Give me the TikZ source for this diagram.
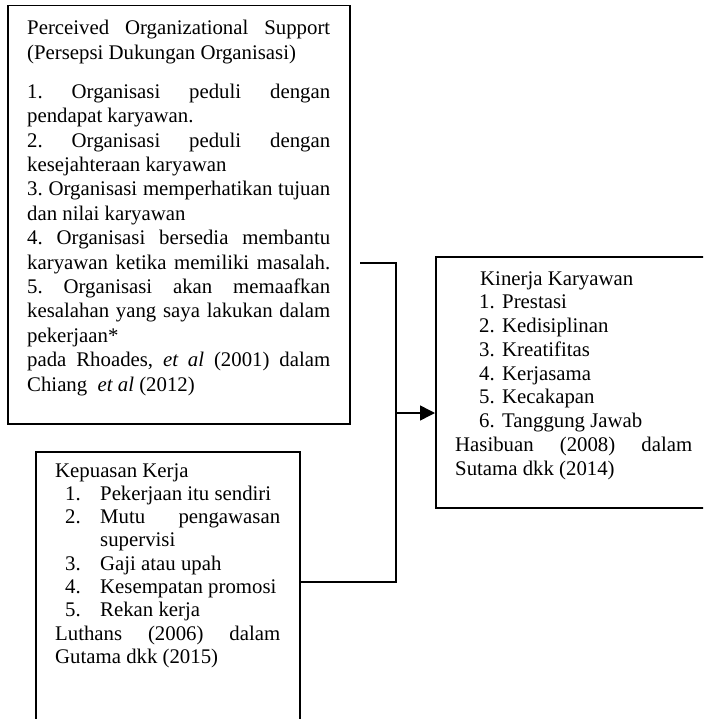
\documentclass[tikz,border=0pt]{standalone}
\usepackage{fontspec}
\setmainfont{Liberation Serif}
\usetikzlibrary{arrows.meta}
\frenchspacing
\newcommand\jl[1]{\makebox[\linewidth][s]{#1}}
\newcommand\itmA[2]{\hspace*{10pt}\makebox[35pt][l]{#1}#2}
\newcommand\itmB[2]{\hspace*{24pt}\makebox[23pt][l]{#1}#2}
\tikzset{
  box/.style={draw, line width=1.5pt, inner sep=0pt, anchor=north west},
  txt/.style={anchor=base west, inner sep=0pt, font=\fontsize{20.8pt}{24pt}\selectfont},
  conn/.style={line width=1.5pt},
}
\begin{document}
\begin{tikzpicture}[x=1pt,y=-1pt]
\useasboundingbox (0,0) rectangle (703,719);
\clip (0,0) rectangle (703,719);
% boxes
\node[box, minimum width=342pt, minimum height=418pt] (pos) at (7,5) {};
\node[box, minimum width=264pt, minimum height=300pt] (kep) at (35,451) {};
\node[box, minimum width=280pt, minimum height=251pt] (kin) at (435,256) {};
% texts
\node[txt] (posT) at (27,35) {\parbox[t]{303pt}{\frenchspacing\setlength\baselineskip{24.4pt}%
\jl{Perceived Organizational Support}\\
(Persepsi Dukungan Organisasi)\\[14.5pt]
\jl{1. Organisasi peduli dengan}\\
pendapat karyawan.\\
\jl{2. Organisasi peduli dengan}\\
kesejahteraan karyawan\\
\jl{3. Organisasi memperhatikan tujuan}\\
dan nilai karyawan\\
\jl{4. Organisasi bersedia membantu}\\
\jl{karyawan ketika memiliki masalah.}\\
\jl{5. Organisasi akan memaafkan}\\
\jl{kesalahan yang saya lakukan dalam}\\
pekerjaan*\\
\jl{pada Rhoades, \textit{et al} (2001) dalam}\\
Chiang\ \ \textit{et al} (2012)}};
\node[txt] (kepT) at (55,477) {\parbox[t]{225pt}{\frenchspacing\setlength\baselineskip{23.3pt}%
Kepuasan Kerja\\
\itmA{1.}{Pekerjaan itu sendiri}\\
\itmA{2.}{\makebox[180pt][s]{Mutu pengawasan}}\\
\itmA{}{supervisi}\\
\itmA{3.}{Gaji atau upah}\\
\itmA{4.}{Kesempatan promosi}\\
\itmA{5.}{Rekan kerja}\\
\jl{Luthans (2006) dalam}\\
Gutama dkk (2015)}};
\node[txt] (kinT) at (455,285) {\parbox[t]{237pt}{\frenchspacing\setlength\baselineskip{23.75pt}%
\hspace*{25pt}Kinerja Karyawan\\
\itmB{1.}{Prestasi}\\
\itmB{2.}{Kedisiplinan}\\
\itmB{3.}{Kreatifitas}\\
\itmB{4.}{Kerjasama}\\
\itmB{5.}{Kecakapan}\\
\itmB{6.}{Tanggung Jawab}\\
\jl{Hasibuan (2008) dalam}\\
Sutama dkk (2014)}};
% connectors
\coordinate (a) at (360,263);
\coordinate (b) at (396,263);
\coordinate (m) at (396,413);
\coordinate (c) at (396,582);
\draw[conn] (a) -- (b) -- (c) -- (kep.east |- c);
\draw[conn,-{Triangle[length=15pt,width=15pt]}] (m) -- (kin.west |- m);
\end{tikzpicture}
\end{document}
